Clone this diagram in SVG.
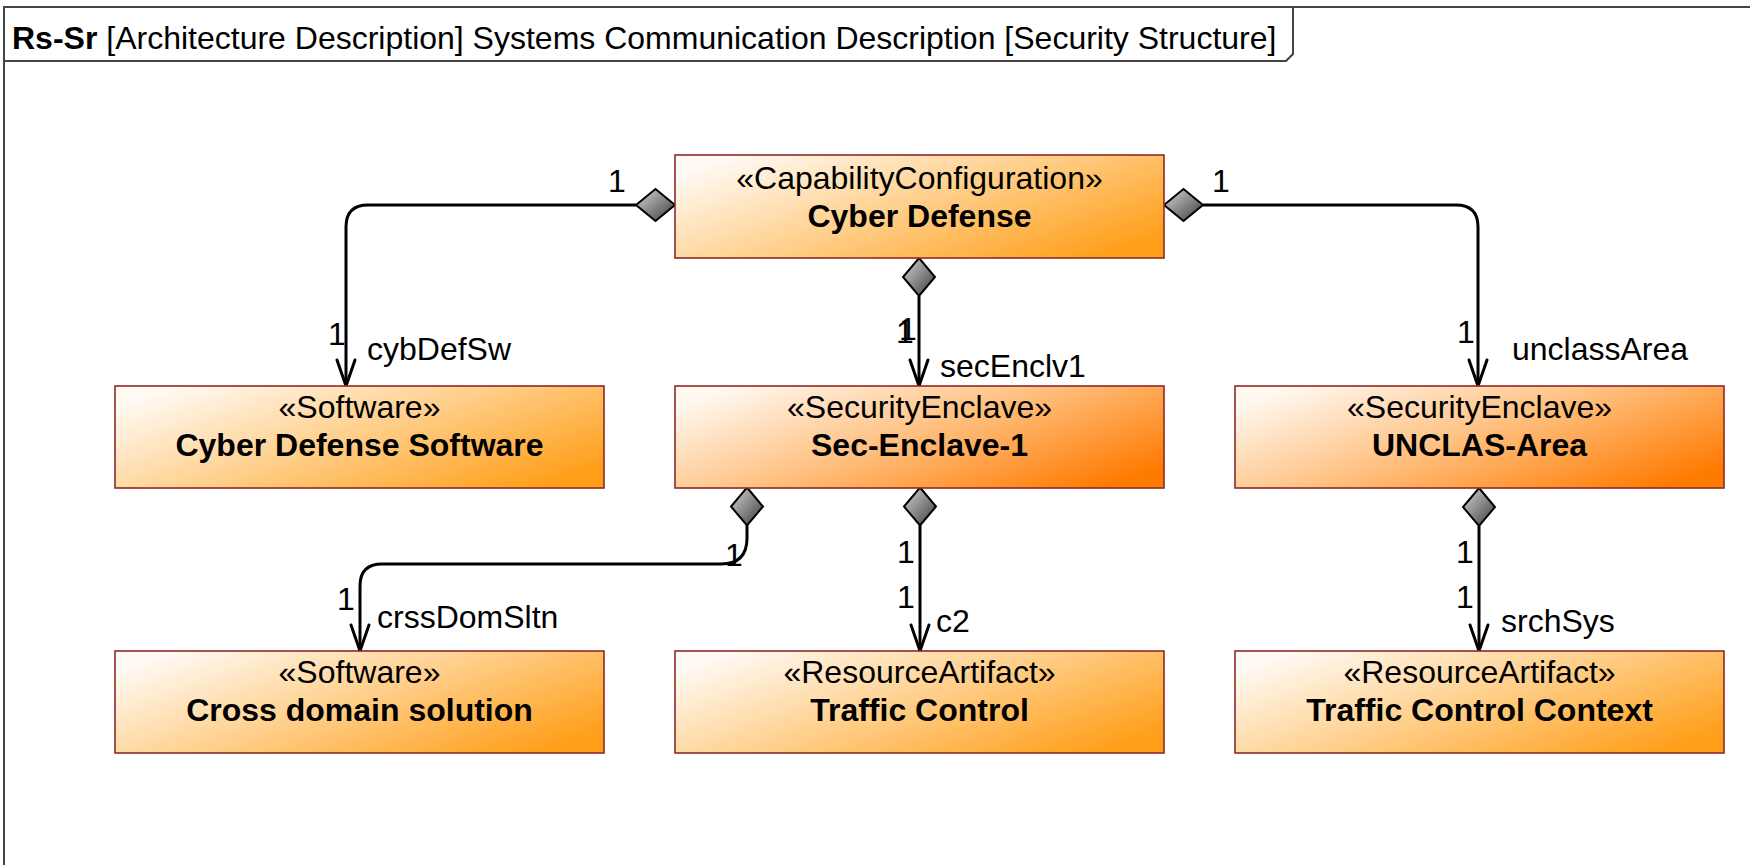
<svg xmlns="http://www.w3.org/2000/svg" xmlns:xlink="http://www.w3.org/1999/xlink" width="1750" height="865" viewBox="0 0 1750 865">
<defs>
<style>
text{font-family:"Liberation Sans",Arial,Helvetica,sans-serif;fill:#000;}
.ttl{font-size:32px;}
.st{font-size:32px;text-anchor:middle;}
.nm{font-size:32px;font-weight:bold;text-anchor:middle;}
.lb{font-size:32px;}
.box{stroke:#8e2a24;stroke-width:1.6;}
.ln{fill:none;stroke:#000;stroke-width:3;marker-end:url(#arr);}
.dia{fill:url(#gd);stroke:#000;stroke-width:2;stroke-linejoin:miter;}
</style>
<linearGradient id="go" x1="0" y1="0.2" x2="1" y2="0.8">
<stop offset="0" stop-color="#fffaf4"/>
<stop offset="0.5" stop-color="#ffcd86"/>
<stop offset="1" stop-color="#ff9e18"/>
</linearGradient>
<linearGradient id="gs" x1="0" y1="0.2" x2="1" y2="0.8">
<stop offset="0" stop-color="#fff8f0"/>
<stop offset="0.5" stop-color="#ffbd7a"/>
<stop offset="1" stop-color="#ff7a00"/>
</linearGradient>
<linearGradient id="gd" x1="0" y1="0" x2="1" y2="1">
<stop offset="0" stop-color="#d8d8d8"/>
<stop offset="1" stop-color="#3a3a3a"/>
</linearGradient>
<marker id="arr" markerUnits="userSpaceOnUse" viewBox="-28 -12 30 24" refX="0" refY="0" markerWidth="30" markerHeight="24" orient="auto" overflow="visible">
<path d="M-26,-9 L0,0 L-26,9" fill="none" stroke="#000" stroke-width="3" stroke-linejoin="round" stroke-linecap="round"/>
</marker>
<polygon id="dh" points="-19.5,0 0,-16 19.5,0 0,16"/>
<polygon id="dv" points="0,-19 16,0 0,19 -16,0"/>
</defs>
<rect width="1750" height="865" fill="#fff"/>
<g id="frame">
<rect x="4" y="7" width="1770" height="880" fill="none" stroke="#444" stroke-width="2"/>
<polyline points="4,61 1286,61 1293,54 1293,7" fill="none" stroke="#444" stroke-width="2"/>
<text class="ttl" x="12" y="49"><tspan font-weight="bold">Rs-Sr</tspan> [Architecture Description] Systems Communication Description [Security Structure]</text>
</g>
<g id="connectors">
<path class="ln" d="M636,205 H368 Q346,205 346,227 V386"/>
<path class="ln" d="M919,296 V386"/>
<path class="ln" d="M1203,205 H1456 Q1478,205 1478,227 V386"/>
<path class="ln" d="M747,525 V538 Q747,564 721,564 H382 Q360,564 360,586 V651"/>
<path class="ln" d="M920,525 V651"/>
<path class="ln" d="M1479,526 V651"/>
<use xlink:href="#dh" href="#dh" class="dia" x="655.5" y="205"/>
<use xlink:href="#dh" href="#dh" class="dia" x="1183.5" y="205"/>
<use xlink:href="#dv" href="#dv" class="dia" x="919" y="277"/>
<use xlink:href="#dv" href="#dv" class="dia" x="747" y="506.5"/>
<use xlink:href="#dv" href="#dv" class="dia" x="920" y="506.5"/>
<use xlink:href="#dv" href="#dv" class="dia" x="1479" y="507"/>
<text class="lb" x="608" y="192">1</text>
<text class="lb" x="1212" y="192">1</text>
<text class="lb" x="328" y="345">1</text>
<text class="lb" x="367" y="360">cybDefSw</text>
<text class="lb" x="896" y="343">1</text>
<text class="lb" x="899" y="340">1</text>
<text class="lb" x="940" y="377">secEnclv1</text>
<text class="lb" x="1457" y="343">1</text>
<text class="lb" x="1512" y="360">unclassArea</text>
<text class="lb" x="725" y="566">1</text>
<text class="lb" x="337" y="610">1</text>
<text class="lb" x="377" y="628">crssDomSltn</text>
<text class="lb" x="897" y="563">1</text>
<text class="lb" x="897" y="608">1</text>
<text class="lb" x="936" y="632">c2</text>
<text class="lb" x="1456" y="563">1</text>
<text class="lb" x="1456" y="608">1</text>
<text class="lb" x="1501" y="632">srchSys</text>
</g>
<g id="node-cyber-defense">
<rect class="box" x="675" y="155" width="489" height="103" fill="url(#go)"/>
<text class="st" x="919.5" y="189">«CapabilityConfiguration»</text>
<text class="nm" x="919.5" y="227">Cyber Defense</text>
</g>
<g id="node-cyber-defense-software">
<rect class="box" x="115" y="386" width="489" height="102" fill="url(#go)"/>
<text class="st" x="359.5" y="418">«Software»</text>
<text class="nm" x="359.5" y="456">Cyber Defense Software</text>
</g>
<g id="node-sec-enclave-1">
<rect class="box" x="675" y="386" width="489" height="102" fill="url(#gs)"/>
<text class="st" x="919.5" y="418">«SecurityEnclave»</text>
<text class="nm" x="919.5" y="456">Sec-Enclave-1</text>
</g>
<g id="node-unclas-area">
<rect class="box" x="1235" y="386" width="489" height="102" fill="url(#gs)"/>
<text class="st" x="1479.5" y="418">«SecurityEnclave»</text>
<text class="nm" x="1479.5" y="456">UNCLAS-Area</text>
</g>
<g id="node-cross-domain-solution">
<rect class="box" x="115" y="651" width="489" height="102" fill="url(#go)"/>
<text class="st" x="359.5" y="683">«Software»</text>
<text class="nm" x="359.5" y="721">Cross domain solution</text>
</g>
<g id="node-traffic-control">
<rect class="box" x="675" y="651" width="489" height="102" fill="url(#go)"/>
<text class="st" x="919.5" y="683">«ResourceArtifact»</text>
<text class="nm" x="919.5" y="721">Traffic Control</text>
</g>
<g id="node-traffic-control-context">
<rect class="box" x="1235" y="651" width="489" height="102" fill="url(#go)"/>
<text class="st" x="1479.5" y="683">«ResourceArtifact»</text>
<text class="nm" x="1479.5" y="721">Traffic Control Context</text>
</g>
</svg>
